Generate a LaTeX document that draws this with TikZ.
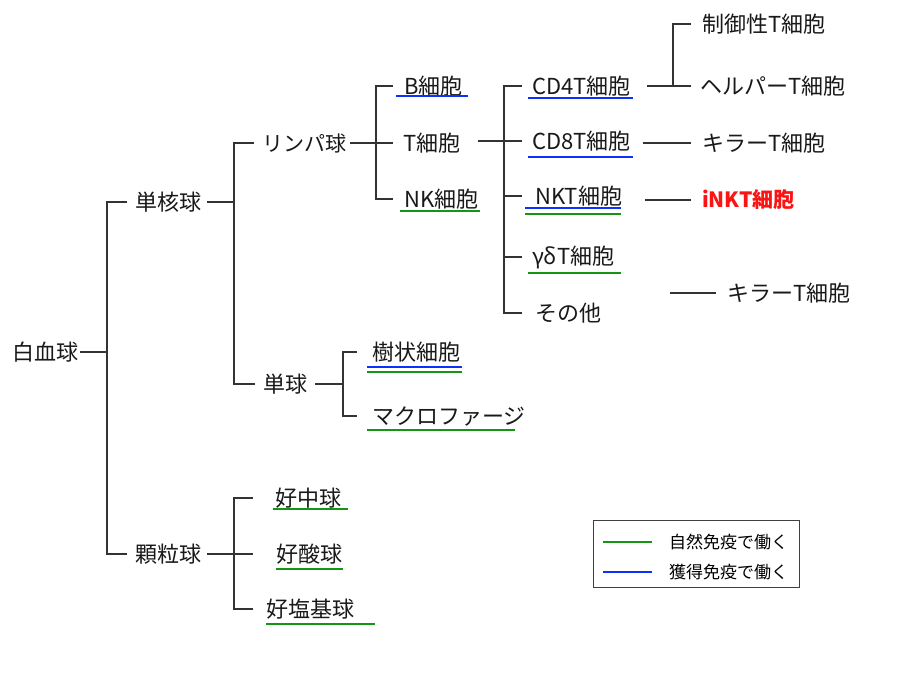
\documentclass[tikz,border=0pt]{standalone}
\usepackage{fontspec}
\setmainfont{Noto Sans CJK JP}
\definecolor{lgreen}{RGB}{20,150,20}
\definecolor{lblue}{RGB}{10,50,250}
\definecolor{lred}{RGB}{250,20,20}
\begin{document}
\begin{tikzpicture}[x=1pt,y=-1pt,
  lbl/.style={anchor=west,inner sep=0pt,font=\fontsize{22}{24}\selectfont,text=black!90},
  conn/.style={draw=black!80,line width=1.1pt},
  ulg/.style={draw=lgreen,line width=1.8pt},
  ulb/.style={draw=lblue,line width=1.8pt},
  leg/.style={anchor=west,inner sep=0pt,font=\fontsize{17}{19}\selectfont}]
\useasboundingbox[fill=white] (0,0) rectangle (920,690);
% nodes
\node[lbl] (wbc) at (12,352) {白血球};
\node[lbl] (mono) at (135,202) {単核球};
\node[lbl] (gran) at (135,554) {顆粒球};
\node[lbl,font=\fontsize{21}{23}\selectfont] (lymph) at (262,143) {リンパ球};
\node[lbl] (mon) at (263,384) {単球};
\node[lbl] (bcell) at (404,86) {B細胞};
\node[lbl] (tcell) at (403,143) {T細胞};
\node[lbl] (nk) at (404,199) {NK細胞};
\node[lbl] (cd4) at (532,86) {CD4T細胞};
\node[lbl] (cd8) at (532,141) {CD8T細胞};
\node[lbl] (nkt) at (535,196) {NKT細胞};
\node[lbl] (gd) at (532,257) {γδT細胞};
\node[lbl] (other) at (535,313) {その他};
\node[lbl] (treg) at (702,24) {制御性T細胞};
\node[lbl] (helper) at (700,86) {ヘルパーT細胞};
\node[lbl] (killa) at (702,143) {キラーT細胞};
\node[lbl,text=lred,font=\fontsize{21}{23}\selectfont\bfseries] (inkt) at (702,200) {iNKT細胞};
\node[lbl] (killb) at (727,293) {キラーT細胞};
\node[lbl] (dc) at (372,352) {樹状細胞};
\node[lbl] (mac) at (372,416) {マクロファージ};
\node[lbl] (neu) at (275,498) {好中球};
\node[lbl] (eos) at (276,554) {好酸球};
\node[lbl] (baso) at (266,609) {好塩基球};
% junctions
\coordinate (j1) at (107,352);
\coordinate (j2) at (234,202);
\coordinate (j3) at (234,554);
\coordinate (j4) at (376,143);
\coordinate (j5) at (504,141);
\coordinate (j6) at (343,384);
\coordinate (j7) at (673,86);
% tree
\draw[conn] ([xshift=2pt]wbc.east) -- (j1);
\draw[conn] ([xshift=-8pt]mono.west) -| (j1) |- ([xshift=-8pt]gran.west);
\draw[conn] ([xshift=6pt]mono.east) -- (j2);
\draw[conn] ([xshift=-8pt]lymph.west) -| (j2) |- ([xshift=-8pt]mon.west);
\draw[conn] ([xshift=6pt]gran.east) -- (j3);
\draw[conn] ([xshift=-22pt]neu.west) -| (j3) |- ([xshift=-13pt]baso.west);
\draw[conn] (j3) -- ([xshift=-23pt]eos.west);
\draw[conn] ([xshift=4pt]lymph.east) -- ([xshift=-10pt]tcell.west);
\draw[conn] ([xshift=-11pt]bcell.west) -| (j4) |- ([xshift=-11pt]nk.west);
\draw[conn] ([xshift=17pt]tcell.east |- j5) -- ([xshift=-10pt]cd8.west);
\draw[conn] ([xshift=-10pt]cd4.west) -| (j5) |- ([xshift=-13pt]other.west);
\draw[conn] (j5 |- nkt.west) -- ([xshift=-13pt]nkt.west);
\draw[conn] (j5 |- gd.west) -- ([xshift=-10pt]gd.west);
\draw[conn] ([xshift=8pt]mon.east) -- (j6);
\draw[conn] ([xshift=-15pt]dc.west) -| (j6) |- ([xshift=-15pt]mac.west);
\draw[conn] ([xshift=16pt]cd4.east) -- ([xshift=-9pt]helper.west);
\draw[conn] ([xshift=-11pt]treg.west) -| (j7);
\draw[conn] ([xshift=12pt]cd8.east |- killa.west) -- ([xshift=-11pt]killa.west);
\draw[conn] ([xshift=-57pt]inkt.west) -- ([xshift=-11pt]inkt.west);
\coordinate (kfree) at (670,293);
\draw[conn] (kfree) -- ([xshift=-11pt]killb.west);
% underlines
\draw[ulb] (396,96) -- (468,96);
\draw[ulg] (400,211) -- (480,211);
\draw[ulb] (528,98) -- (633,98);
\draw[ulb] (528,157) -- (633,157);
\draw[ulb] (525,208) -- (621,208);
\draw[ulg] (525,214) -- (621,214);
\draw[ulg] (528,273) -- (621,273);
\draw[ulb] (367,367) -- (462,367);
\draw[ulg] (367,372) -- (462,372);
\draw[ulg] (367,430) -- (515,430);
\draw[ulg] (273,509) -- (348,509);
\draw[ulg] (276,569) -- (343,569);
\draw[ulg] (266,624) -- (375,624);
% legend
\node[draw=black!75,line width=1pt,minimum width=206pt,minimum height=67pt,inner sep=0pt] (legbox) at (696,553.5) {};
\node[leg] (legn) at (669,542) {自然免疫で働く};
\node[leg] (lega) at (669,572) {獲得免疫で働く};
\draw[ulg] ([xshift=-17pt]legn.west) -- ([xshift=-66pt]legn.west);
\draw[ulb] ([xshift=-17pt]lega.west) -- ([xshift=-66pt]lega.west);
\end{tikzpicture}
\end{document}
